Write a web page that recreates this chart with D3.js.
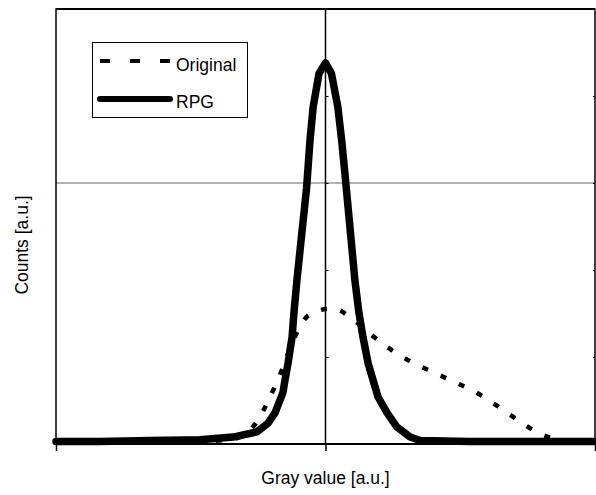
<!DOCTYPE html>
<html>
  <head>
    <meta charset="utf-8">
    <title>Gray value histogram</title>
    <script src="https://d3js.org/d3.v7.min.js"></script>
    <style>
      body { margin: 0; background: #fff; }
      text { font-family: "Liberation Sans", Arial, sans-serif; fill: #000; }
    </style>
  </head>
  <body>
    <svg id="chart" width="596" height="495"></svg>
    <script>
      // gray value in arbitrary units, 0 = centre of the histogram
      const origX = [-100, -65, -46.6, -33.6, -29.9, -25.4, -20.6, -15.8, -11.7, -5.8, 2.8, 10.2, 17.6, 25.0, 32.1, 40.3, 48.8, 56.6, 63.6, 71.1, 78.8, 88.1, 97.2, 100];
      const origY = [0.02, 0.02, 0.03, 0.06, 0.11, 0.26, 0.54, 0.88, 1.21, 1.49, 1.56, 1.43, 1.24, 1.07, 0.94, 0.82, 0.70, 0.58, 0.44, 0.28, 0.13, 0.04, 0.02, 0.02];
      const rpgX = [-100, -83.7, -65.1, -46.6, -34.3, -25.4, -21.3, -18.7, -15.8, -15.0, -13.9, -12.4, -11.7, -10.6, -7.0, -5.75, -4.6, -2.4, 0, 2.2, 4.6, 6.0, 7.2, 10.9, 12.4, 13.9, 15.8, 17.6, 19.5, 22.8, 26.5, 31.4, 35.1, 53.6, 100];
      const rpgY = [0.03, 0.03, 0.04, 0.05, 0.08, 0.14, 0.24, 0.36, 0.59, 0.74, 0.93, 1.23, 1.51, 1.885, 2.95, 3.49, 3.87, 4.26, 4.38, 4.26, 3.87, 3.49, 3.11, 1.885, 1.51, 1.23, 0.93, 0.74, 0.54, 0.36, 0.195, 0.08, 0.04, 0.03, 0.03];
      const seriesNames = ["Original", "RPG"];
      const xTicks = [-100, 0, 100];
      const yMinorTicks = [1, 2, 3, 4];
      const yGrid = [3];

      const svg = d3.select("#chart");
      const margin = { top: 9, right: 1, bottom: 51, left: 56 };
      const width = 596 - margin.left - margin.right;
      const height = 495 - margin.top - margin.bottom;

      const x = d3.scaleLinear().domain([-100, 100]).range([margin.left, margin.left + width]);
      const y = d3.scaleLinear().domain([0, 5]).range([margin.top + height, margin.top]);

      // gridline
      svg.selectAll(".grid")
        .data(yGrid)
        .enter().append("line")
          .attr("x1", x(-100)).attr("x2", x(100))
          .attr("y1", d => y(d)).attr("y2", d => y(d))
          .attr("stroke", "#999").attr("stroke-width", 1.5);

      // curves
      const smooth = d3.line()
        .x(d => x(d[0]))
        .y(d => y(d[1]))
        .curve(d3.curveMonotoneX);
      const straight = d3.line()
        .x(d => x(d[0]))
        .y(d => y(d[1]));
      const origData = d3.zip(origX, origY);
      const rpgData = d3.zip(rpgX, rpgY);

      svg.append("path")
        .datum(origData)
        .attr("d", smooth)
        .attr("fill", "none")
        .attr("stroke", "#000")
        .attr("stroke-width", 4.5)
        .attr("stroke-dasharray", "6,14");

      svg.append("path")
        .datum(rpgData)
        .attr("d", straight)
        .attr("fill", "none")
        .attr("stroke", "#000")
        .attr("stroke-width", 7.5)
        .attr("stroke-linejoin", "round")
        .attr("stroke-linecap", "round");

      // frame
      svg.append("rect")
        .attr("x", x(-100)).attr("y", y(5))
        .attr("width", x(100) - x(-100)).attr("height", y(0) - y(5))
        .attr("fill", "none").attr("stroke", "#000").attr("stroke-width", 1.5);
      svg.append("line")
        .attr("x1", x(-100)).attr("x2", x(100))
        .attr("y1", y(0)).attr("y2", y(0))
        .attr("stroke", "#000").attr("stroke-width", 2);
      svg.append("line")
        .attr("x1", x(-100)).attr("x2", x(100))
        .attr("y1", y(5)).attr("y2", y(5))
        .attr("stroke", "#000").attr("stroke-width", 2);

      // x axis with ticks below
      const xAxis = svg.append("g")
        .attr("transform", `translate(0,${y(0)})`)
        .call(d3.axisBottom(x).tickValues(xTicks).tickSize(7).tickFormat(""));
      xAxis.select(".domain").remove();
      xAxis.selectAll(".tick line").attr("stroke", "#000").attr("stroke-width", 1.5);

      // centre vertical axis
      svg.append("line")
        .attr("x1", x(0)).attr("x2", x(0))
        .attr("y1", y(5)).attr("y2", y(0))
        .attr("stroke", "#000").attr("stroke-width", 1.5);
      const midAxis = svg.append("g")
        .attr("transform", `translate(${x(0)},0)`)
        .call(d3.axisRight(y).tickValues(yMinorTicks).tickSize(3).tickFormat(""));
      midAxis.select(".domain").remove();
      midAxis.selectAll(".tick line").attr("stroke", "#000");

      const rightAxis = svg.append("g")
        .attr("transform", `translate(${x(100)},0)`)
        .call(d3.axisLeft(y).tickValues(yMinorTicks).tickSize(2).tickFormat(""));
      rightAxis.select(".domain").remove();
      rightAxis.selectAll(".tick line").attr("stroke", "#000");

      // legend
      const legend = svg.append("g");
      legend.append("rect")
        .attr("x", 92.5).attr("y", 42.5).attr("width", 155).attr("height", 75)
        .attr("fill", "#fff").attr("stroke", "#000").attr("stroke-width", 1);
      legend.append("line")
        .attr("x1", 100).attr("x2", 172).attr("y1", 61).attr("y2", 61)
        .attr("stroke", "#000").attr("stroke-width", 4).attr("stroke-dasharray", "10,20");
      legend.append("line")
        .attr("x1", 100).attr("x2", 170).attr("y1", 99).attr("y2", 99)
        .attr("stroke", "#000").attr("stroke-width", 6).attr("stroke-linecap", "round");
      legend.selectAll(".ltext")
        .data(seriesNames)
        .enter().append("text")
          .attr("x", 176)
          .attr("y", (d, i) => 71 + i * 37)
          .style("font-size", "17.5px")
          .text(d => d);

      // axis titles
      svg.append("text")
        .attr("x", x(0))
        .attr("y", 484)
        .attr("text-anchor", "middle")
        .style("font-size", "17.5px")
        .text("Gray value [a.u.]");
      svg.append("text")
        .attr("transform", "translate(28,245) rotate(-90)")
        .attr("text-anchor", "middle")
        .style("font-size", "17.5px")
        .text("Counts [a.u.]");
    </script>
  </body>
</html>
